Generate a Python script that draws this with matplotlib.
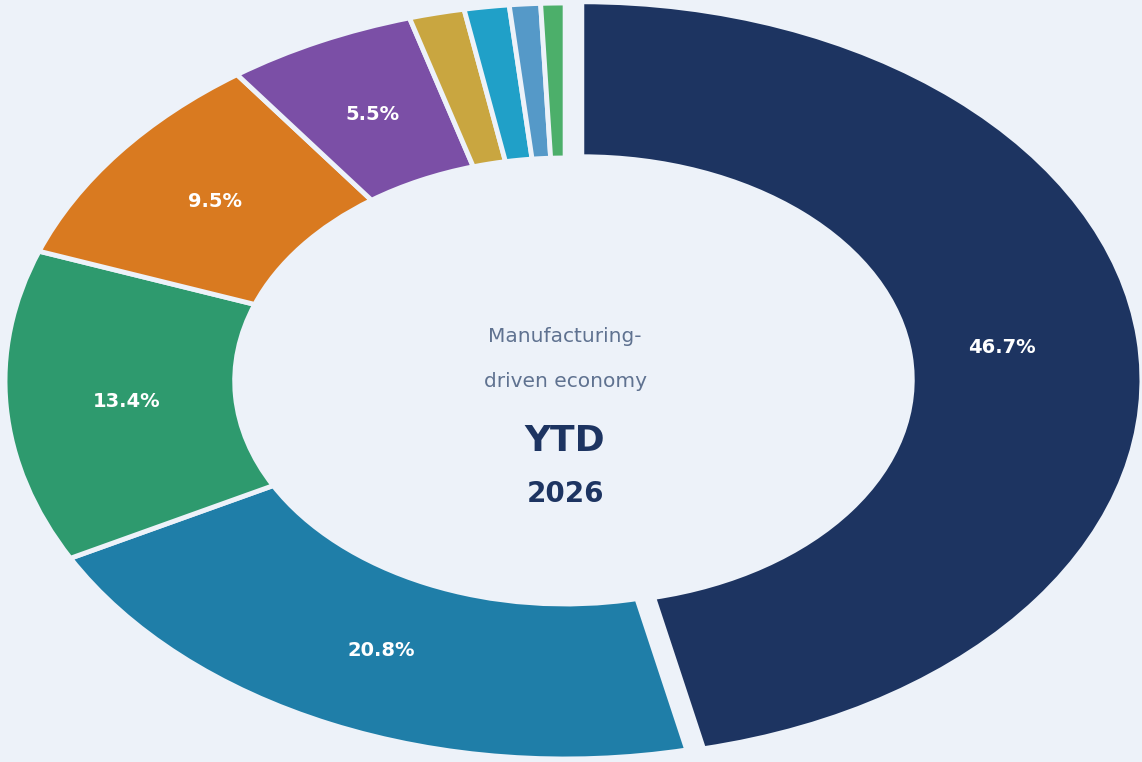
import matplotlib.pyplot as plt

# Datos (los valores no suman exactamente 100)
sectores = ['Sector A', 'Sector B', 'Sector C', 'Sector D', 'Sector E',
            'Sector F', 'Sector G', 'Sector H', 'Sector I']
valores = [46.7, 20.8, 13.4, 9.5, 5.5, 1.6, 1.3, 0.9, 0.7]
colores = ['#1d3461', '#1f7ea8', '#2e9a6e', '#d97a20', '#7b4fa6',
           '#c9a640', '#20a0c8', '#5599c8', '#4caf6a']
separar = [0.03, 0, 0, 0, 0, 0, 0, 0, 0]

fondo = '#edf2f9'
total = sum(valores)


def etiqueta(pct):
    # se muestra el valor original, solo en los sectores grandes
    valor = pct * total / 100
    return f'{valor:.1f}%' if valor >= 3 else ''


def generar_grafica():
    fig = plt.figure(figsize=(11.42, 7.62), dpi=100, facecolor=fondo)
    ax = fig.add_axes([0, 0, 1, 1])
    ax.set_facecolor(fondo)

    wedges, textos, autotextos = ax.pie(
        valores, colors=colores, explode=separar, startangle=90,
        counterclock=False, autopct=etiqueta, pctdistance=0.785,
        wedgeprops=dict(width=0.41, edgecolor=fondo, linewidth=3.5),
        textprops=dict(color='white', fontsize=14, fontweight='bold'))

    # el texto del sector mayor queda un poco mas adentro
    x, y = autotextos[0].get_position()
    autotextos[0].set_position((x - 0.03, y))

    ax.set_aspect('auto')
    ax.set_xlim(-1.009, 1.030)
    ax.set_ylim(-1.008, 1.008)
    ax.axis('off')

    # Texto central
    ax.text(0, 0.118, 'Manufacturing-', ha='center', va='center',
            fontsize=14.5, color='#5f7290')
    ax.text(0, -0.002, 'driven economy', ha='center', va='center',
            fontsize=14.5, color='#5f7290')
    ax.text(0, -0.158, 'YTD', ha='center', va='center', fontsize=26,
            fontweight='bold', color='#1d3461')
    ax.text(0, -0.300, '2026', ha='center', va='center', fontsize=20,
            fontweight='bold', color='#1d3461')

    plt.savefig('out.png', facecolor=fondo)


if __name__ == "__main__":
    generar_grafica()
